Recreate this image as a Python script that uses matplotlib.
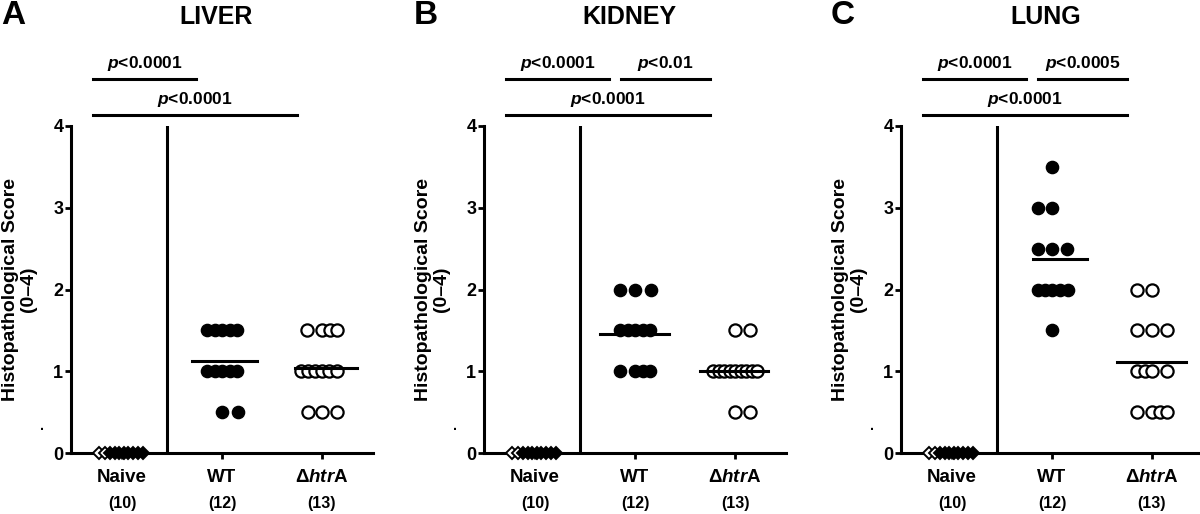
import numpy as np
import matplotlib.pyplot as plt

plt.rcParams["font.family"] = ["Liberation Sans", "DejaVu Sans"]
plt.rcParams["font.weight"] = "bold"
plt.rcParams["mathtext.fontset"] = "custom"
plt.rcParams["mathtext.rm"] = "Liberation Sans:bold"
plt.rcParams["mathtext.it"] = "Liberation Sans:italic:bold"
plt.rcParams["mathtext.bf"] = "Liberation Sans:bold"

# ---- data ----
organs = ["LIVER", "KIDNEY", "LUNG"]
letters = ["A", "B", "C"]
groups = ["Naive", "WT", "Δ$htr$A"]

liver_naive = [0, 0, 0, 0, 0, 0, 0, 0, 0, 0]
liver_wt = [1.5, 1.5, 1.5, 1.5, 1.5, 1.0, 1.0, 1.0, 1.0, 1.0, 0.5, 0.5]
liver_htra = [1.5, 1.5, 1.5, 1.5, 1.0, 1.0, 1.0, 1.0, 1.0, 1.0, 0.5, 0.5, 0.5]

kidney_naive = [0, 0, 0, 0, 0, 0, 0, 0, 0, 0]
kidney_wt = [2.0, 2.0, 2.0, 1.5, 1.5, 1.5, 1.5, 1.5, 1.0, 1.0, 1.0, 1.0]
kidney_htra = [1.5, 1.5, 1.0, 1.0, 1.0, 1.0, 1.0, 1.0, 1.0, 1.0, 1.0, 0.5, 0.5]

lung_naive = [0, 0, 0, 0, 0, 0, 0, 0, 0, 0]
lung_wt = [3.5, 3.0, 3.0, 2.5, 2.5, 2.5, 2.0, 2.0, 2.0, 2.0, 2.0, 1.5]
lung_htra = [2.0, 2.0, 1.5, 1.5, 1.5, 1.0, 1.0, 1.0, 1.0, 0.5, 0.5, 0.5, 0.5]

# comparisons (group i, group j) and their labels
liver_cmp = [(0, 1), (0, 2)]
liver_p = ["$p$<0.0001", "$p$<0.0001"]
kidney_cmp = [(0, 1), (1, 2), (0, 2)]
kidney_p = ["$p$<0.0001", "$p$<0.01", "$p$<0.0001"]
lung_cmp = [(0, 1), (1, 2), (0, 2)]
lung_p = ["$p$<0.0001", "$p$<0.0005", "$p$<0.0001"]

panel_values = [
    [liver_naive, liver_wt, liver_htra],
    [kidney_naive, kidney_wt, kidney_htra],
    [lung_naive, lung_wt, lung_htra],
]
panel_cmp = [liver_cmp, kidney_cmp, lung_cmp]
panel_p = [liver_p, kidney_p, lung_p]

# ---- layout: horizontal scatter offsets of the points ----
naive_off = [-0.235, -0.175, -0.12, -0.075, -0.03, 0.015, 0.06, 0.11, 0.16, 0.21]
offsets = [
    [naive_off,
     [-0.15, -0.075, 0, 0.075, 0.15, -0.15, -0.075, 0, 0.075, 0.15, 0, 0.155],
     [-0.15, 0, 0.075, 0.15, -0.215, -0.145, -0.07, 0, 0.07, 0.145, -0.145, 0, 0.145]],
    [naive_off,
     [-0.155, 0, 0.155, -0.15, -0.075, 0, 0.075, 0.15, -0.155, 0, 0.075, 0.15],
     [0, 0.15, -0.22, -0.165, -0.11, -0.055, 0, 0.055, 0.11, 0.165, 0.22, 0, 0.15]],
    [naive_off,
     [0, -0.14, 0, -0.14, 0, 0.15, -0.14, -0.07, 0, 0.08, 0.155, 0],
     [-0.15, 0, -0.15, 0, 0.15, -0.15, -0.075, 0, 0.15, -0.15, 0, 0.075, 0.15]],
]
mean_span = [[(-0.30, 0.35), (-0.27, 0.35)],
             [(-0.35, 0.34), (-0.35, 0.33)],
             [(-0.19, 0.35), (-0.35, 0.34)]]
ax_left_px = [71, 484, 901]

W, H = 1200, 514
fig = plt.figure(figsize=(W / 100, H / 100), dpi=100)

y0_px, y4_px = 453, 126
for k in range(3):
    ax = fig.add_axes([ax_left_px[k] / W, (H - y0_px) / H, 302 / W, (y0_px - y4_px) / H])
    vals = panel_values[k]
    for g in range(3):
        v = np.array(vals[g], dtype=float)
        x = g + np.array(offsets[k][g])
        if g == 0:
            # naive: first two open diamonds, the dense rest reads as solid
            ax.plot(x[:2], v[:2], ls="none", marker="D", ms=6.5, mfc="white",
                    mec="black", mew=1.4, clip_on=False, zorder=3)
            ax.plot(x[2:], v[2:], ls="none", marker="D", ms=6.5, mfc="black",
                    mec="black", mew=1.4, clip_on=False, zorder=3)
        elif g == 1:
            ax.plot(x, v, ls="none", marker="o", ms=8.8, mfc="black", mec="black",
                    clip_on=False, zorder=3)
        else:
            ax.plot(x, v, ls="none", marker="o", ms=8.8, mfc="white", mec="black",
                    mew=1.6, clip_on=False, zorder=3)
        if g > 0:
            lo, hi = mean_span[k][g - 1]
            ax.plot([g + lo, g + hi], [v.mean()] * 2, color="black", lw=2.2, zorder=4)
        ax.annotate(groups[g], xy=(g, 0), xycoords=("data", "axes fraction"),
                    xytext=(0, -17.5), textcoords="offset points",
                    ha="center", va="center", fontsize=13.5, fontweight="bold")
        ax.annotate(f"({len(v)})", xy=(g, 0), xycoords=("data", "axes fraction"),
                    xytext=(0, -36.5), textcoords="offset points",
                    ha="center", va="center", fontsize=11.5, fontweight="bold")

    # separator between naive and infected groups
    ax.plot([0.45, 0.45], [0, 4], color="black", lw=2.2, zorder=2)

    # significance bars
    for (i, j), lab in zip(panel_cmp[k], panel_p[k]):
        x0 = i - 0.29 if i == 0 else i - 0.14
        x1 = j - 0.26 if j == 1 else j - 0.25
        ybar = 4.575 if j - i == 1 else 4.135
        ax.plot([x0, x1], [ybar, ybar], color="black", lw=2.2, clip_on=False)
        ax.text((x0 + x1) / 2, ybar + 0.19, lab, ha="center", va="center",
                fontsize=12.5, fontweight="bold")

    ax.set_xlim(-0.51, 2.51)
    ax.set_ylim(0, 4)
    ax.set_yticks([0, 1, 2, 3, 4])
    ax.set_xticks([0, 1, 2])
    ax.set_xticklabels([])
    ax.tick_params(axis="y", length=4, width=2, pad=1.5, labelsize=13)
    ax.tick_params(axis="x", length=4, width=2)
    for t in ax.get_yticklabels():
        t.set_fontweight("bold")
    ax.spines[["top", "right"]].set_visible(False)
    ax.spines[["left", "bottom"]].set_linewidth(2.2)

    ax.set_ylabel("Histopathological Score\n(0–4)", fontsize=14, fontweight="bold",
                  linespacing=1.1)
    ax.yaxis.set_label_coords(-0.112, 0.5)
    ax.annotate(".", xy=(0, 0.245), xycoords=("axes fraction", "data"),
                xytext=(-21, 0), textcoords="offset points", ha="center",
                va="bottom", fontsize=10)

    cx = ax_left_px[k] + 151
    fig.text((cx - 6) / W, 1 - 17 / H, organs[k], ha="center", va="center",
             fontsize=18, fontweight="bold")
    fig.text((ax_left_px[k] - 58) / W, 1 - 16 / H, letters[k], ha="center",
             va="center", fontsize=24, fontweight="bold")

fig.savefig("out.png", dpi=100)
